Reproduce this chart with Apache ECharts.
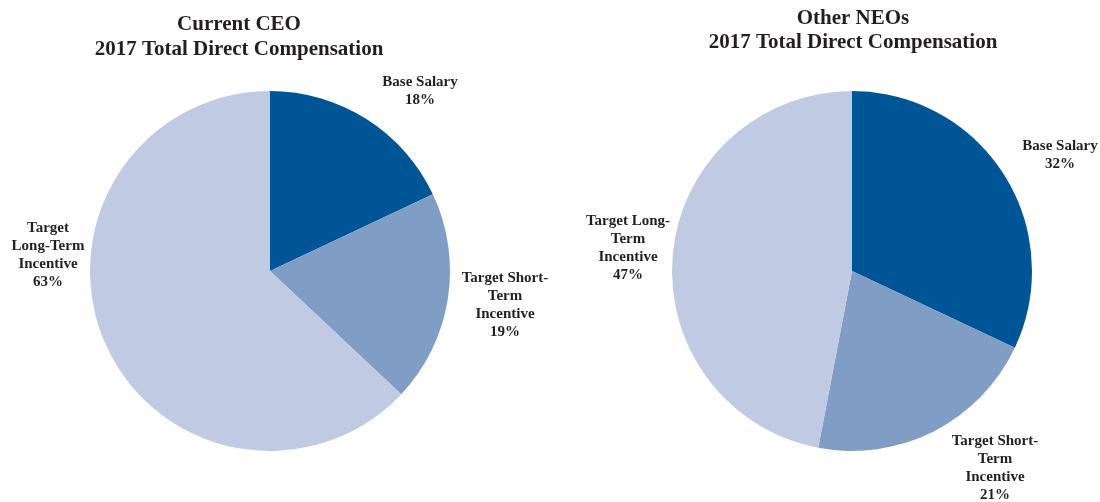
<!DOCTYPE html>
<html><head><meta charset="utf-8">
<script src="https://cdn.jsdelivr.net/npm/echarts@6/dist/echarts.min.js"></script>
<style>html,body{margin:0;padding:0;background:#fff}#c{width:1100px;height:502px}</style>
</head><body><div id="c"></div>
<script>
const categories = ["Base Salary", "Target Short-Term Incentive", "Target Long-Term Incentive"];
const ceoValues = [18, 19, 63];
const neoValues = [32, 21, 47];
const ceoLabelNames = ["Base Salary", "Target Short-\nTerm\nIncentive", "Target\nLong-Term\nIncentive"];
const neoLabelNames = ["Base Salary", "Target Short-\nTerm\nIncentive", "Target Long-\nTerm\nIncentive"];
const colors = ["#005596", "#809DC6", "#C0CBE3"];

const chart = echarts.init(document.getElementById('c'));
const font = "'Liberation Serif', 'Times New Roman', serif";
const txt = '#231F20';

const ceoLabelPos = [[420, 91], [505, 305], [48, 255]];
const neoLabelPos = [[1060, 155], [995, 468], [628, 248]];

function pie(values, labelNames, center, labelPos) {
  return {
    type: 'pie',
    center: center,
    radius: 180,
    startAngle: 90,
    clockwise: true,
    animation: false,
    data: values.map((v, i) => ({ name: categories[i], value: v, itemStyle: { color: colors[i] } })),
    itemStyle: { borderWidth: 0 },
    label: {
      show: true,
      position: 'outside',
      alignTo: 'none',
      overflow: 'none',
      width: 200,
      formatter: p => labelNames[p.dataIndex] + '\n' + p.value + '%',
      fontFamily: font, fontWeight: 'bold', fontSize: 15, lineHeight: 18,
      color: txt, align: 'center'
    },
    labelLine: { show: false },
    labelLayout: p => ({ x: labelPos[p.dataIndex][0], y: labelPos[p.dataIndex][1], align: 'center', verticalAlign: 'middle', hideOverlap: false }),
    emphasis: { disabled: true }
  };
}

chart.setOption({
  title: [
    { text: 'Current CEO\n2017 Total Direct Compensation', left: 234, top: 7, textAlign: 'center',
      textStyle: { fontFamily: font, fontWeight: 'bold', fontSize: 21, lineHeight: 25, color: txt } },
    { text: 'Other NEOs\n2017 Total Direct Compensation', left: 848, top: 2, textAlign: 'center',
      textStyle: { fontFamily: font, fontWeight: 'bold', fontSize: 21, lineHeight: 24, color: txt } }
  ],
  series: [
    pie(ceoValues, ceoLabelNames, [270, 271], ceoLabelPos),
    pie(neoValues, neoLabelNames, [852, 271], neoLabelPos)
  ]
});
</script></body></html>
